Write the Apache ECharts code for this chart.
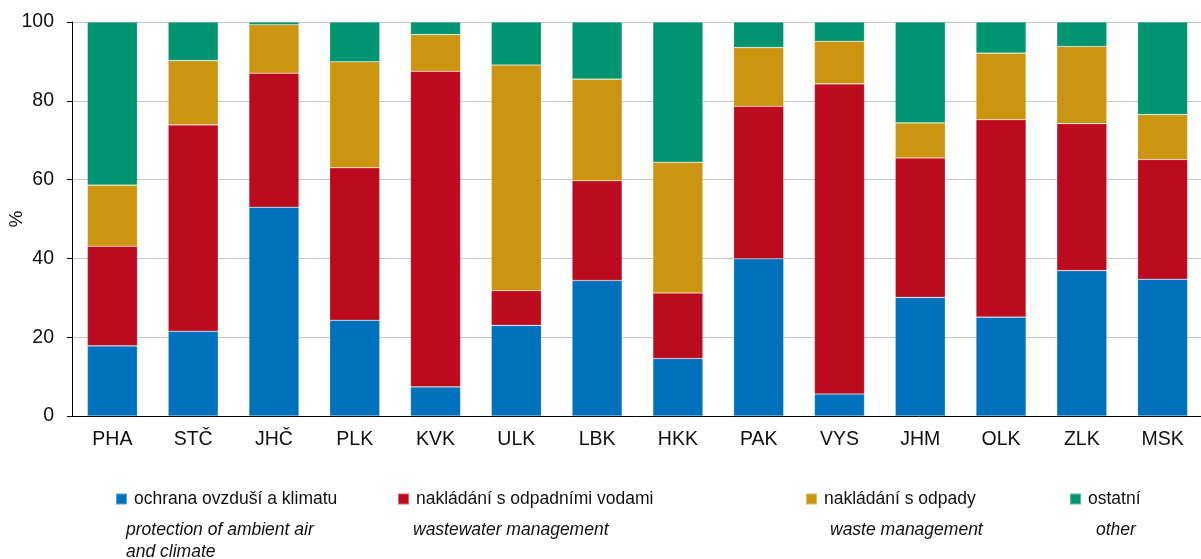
<!DOCTYPE html>
<html>
<head>
<meta charset="utf-8">
<script src="https://cdn.jsdelivr.net/npm/echarts@6/dist/echarts.min.js"></script>
<style>
  html, body { margin: 0; padding: 0; background: #fff; }
  #chart { width: 1201px; height: 559px; }
</style>
</head>
<body>
<div id="chart"></div>
<script>
const regions = ['PHA', 'STČ', 'JHČ', 'PLK', 'KVK', 'ULK', 'LBK', 'HKK', 'PAK', 'VYS', 'JHM', 'OLK', 'ZLK', 'MSK'];
const yTicks = [0, 20, 40, 60, 80, 100];

const air = [17.8, 21.5, 53.0, 24.3, 7.4, 23.0, 34.4, 14.6, 39.9, 5.6, 30.1, 25.1, 36.9, 34.7];
const wastewater = [25.3, 52.4, 34.0, 38.7, 80.1, 8.8, 25.3, 16.6, 38.7, 78.7, 35.4, 50.1, 37.3, 30.4];
const waste = [15.5, 16.3, 12.3, 26.9, 9.3, 57.3, 25.8, 33.2, 14.9, 10.8, 8.9, 16.9, 19.6, 11.4];
const other = [41.4, 9.8, 0.7, 10.1, 3.2, 10.9, 14.5, 35.6, 6.5, 4.9, 25.6, 7.9, 6.2, 23.5];

const names = ['ochrana ovzduší a klimatu', 'nakládání s odpadními vodami', 'nakládání s odpady', 'ostatní'];
const namesEn = ['protection of ambient air\nand climate', 'wastewater management', 'waste management', 'other'];
const colors = ['#0071bc', '#bc0a1e', '#cc9511', '#009470'];
const values = [air, wastewater, waste, other];

const font = '"Liberation Sans", Arial, sans-serif';
const legendLeft = [110, 392, 800, 1064];
const enLeft = [126, 413, 830, 1096];

const chart = echarts.init(document.getElementById('chart'));
chart.setOption({
  animation: false,
  textStyle: { fontFamily: font },
  grid: { left: 72, right: -2, top: 22, bottom: 143, outerBoundsMode: 'none' },
  legend: names.map((n, i) => ({
    data: [n],
    left: legendLeft[i],
    top: 485,
    icon: 'rect',
    itemWidth: 11,
    itemHeight: 11,
    itemGap: 0,
    selectedMode: false,
    textStyle: { fontSize: 17.5, color: '#111', fontFamily: font, padding: [0, 0, 0, 2] }
  })),
  graphic: namesEn.map((t, i) => ({
    type: 'text',
    left: enLeft[i],
    top: 519,
    style: {
      text: t,
      font: 'italic 17.5px ' + font,
      fill: '#111',
      lineHeight: 22
    }
  })),
  xAxis: {
    type: 'category',
    data: regions,
    axisLine: { lineStyle: { color: '#000', width: 1 } },
    axisTick: { length: 6, lineStyle: { color: '#000' } },
    axisLabel: { fontSize: 19.5, color: '#111', margin: 14 }
  },
  yAxis: {
    type: 'value',
    min: 0,
    max: 100,
    interval: 20,
    name: '%',
    nameLocation: 'middle',
    nameRotate: 90,
    nameGap: 46,
    nameMoveOverlap: false,
    nameTextStyle: { fontSize: 19, color: '#111' },
    axisLine: { show: true, lineStyle: { color: '#000', width: 1 } },
    axisTick: { show: true, length: 5, lineStyle: { color: '#000' } },
    axisLabel: {
      fontSize: 19.5,
      color: '#111',
      margin: 18,
      formatter: v => (yTicks.includes(v) ? String(v) : '')
    },
    splitLine: { lineStyle: { color: '#c8c8c8', width: 1 } }
  },
  series: names.map((n, i) => ({
    name: n,
    type: 'bar',
    stack: 'total',
    barWidth: '62%',
    data: values[i],
    itemStyle: { color: colors[i], borderColor: 'rgba(255,255,255,0.35)', borderWidth: 0.6 }
  }))
});
</script>
</body>
</html>
